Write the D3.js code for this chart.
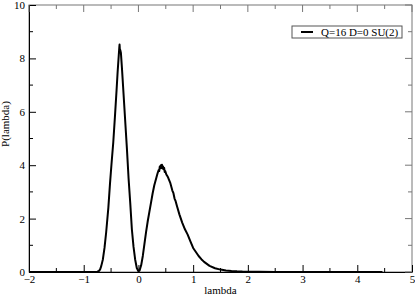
<!DOCTYPE html>
<html>
<head>
<meta charset="utf-8">
<script src="https://cdn.jsdelivr.net/npm/d3@7"></script>
<style>
  body { margin: 0; background: #fff; }
  text { font-family: "Liberation Serif", "DejaVu Serif", serif; }
</style>
</head>
<body>
<div id="chart"></div>
<script>
// curve
let lambdaVals = [-2, -1.5, -1.0, -0.8, -0.75, -0.72, -0.70, -0.68, -0.65, -0.62, -0.59, -0.55,
  -0.52, -0.49, -0.46, -0.43, -0.40, -0.38, -0.36, -0.35, -0.345, -0.34, -0.33, -0.32, -0.30,
  -0.27, -0.24, -0.21, -0.18, -0.15, -0.12, -0.09, -0.06, -0.03, 0.0, 0.02, 0.05, 0.08, 0.11,
  0.14, 0.17, 0.20, 0.23, 0.26, 0.29, 0.31, 0.33, 0.35, 0.37, 0.38, 0.39, 0.40, 0.41, 0.42,
  0.43, 0.44, 0.45, 0.46, 0.47, 0.48, 0.49, 0.51, 0.52, 0.54, 0.55, 0.58, 0.60, 0.62, 0.64,
  0.66, 0.68, 0.70, 0.75, 0.80, 0.85, 0.90, 0.95, 1.0, 1.05, 1.1, 1.15, 1.2, 1.3, 1.4, 1.5,
  1.6, 1.7, 1.8, 1.9, 2.0, 2.2, 2.5, 3.0, 4.0, 4.46];
let probVals = [0, 0, 0, 0, 0.01, 0.04, 0.1, 0.22, 0.47, 0.9, 1.48, 2.4,
  3.3, 4.1, 4.85, 5.8, 6.8, 7.5, 8.1, 8.4, 8.52, 8.35, 8.3, 8.2, 7.6,
  6.6, 5.6, 4.6, 3.5, 2.6, 1.6, 0.95, 0.47, 0.15, 0.03, 0.05, 0.25, 0.6, 1.05,
  1.5, 1.9, 2.25, 2.6, 2.95, 3.25, 3.4, 3.55, 3.7, 3.82, 3.78, 3.95, 3.88, 4.0, 3.9,
  4.02, 3.88, 3.95, 3.85, 3.9, 3.75, 3.78, 3.65, 3.62, 3.55, 3.5, 3.35, 3.2, 3.05, 2.95,
  2.75, 2.65, 2.5, 2.15, 1.85, 1.6, 1.4, 1.15, 0.9, 0.75, 0.6, 0.48, 0.38, 0.23, 0.14, 0.09,
  0.06, 0.04, 0.025, 0.015, 0.01, 0.005, 0, 0, 0, 0];

let xTicks = [-2, -1, 0, 1, 2, 3, 4, 5];
let yTicks = [0, 2, 4, 6, 8, 10];
let seriesName = "Q=16 D=0 SU(2)";

let width = 415, height = 297;
let margin = {left: 29, right: 3, top: 5, bottom: 25};

let svg = d3.select("#chart")
  .append("svg")
  .attr("width", width)
  .attr("height", height);

let x = d3.scaleLinear().domain([-2, 5]).range([margin.left, width - margin.right]);
let y = d3.scaleLinear().domain([0, 10]).range([height - margin.bottom, margin.top]);

let points = lambdaVals.map(function(l, i) { return {x: l, y: probVals[i]}; });

// minor ticks at the half steps
let xMinor = d3.range(-1.5, 5, 1);
let yMinor = d3.range(1, 10, 2);

// frame: top and right look lighter in the picture
svg.append("rect")
  .attr("x", x(-2)).attr("y", y(10))
  .attr("width", x(5) - x(-2)).attr("height", y(0) - y(10))
  .attr("fill", "none").attr("stroke", "#777").attr("stroke-width", 1);

// bottom axis, ticks inward
let xAxis = svg.append("g")
  .attr("transform", "translate(0," + y(0) + ")")
  .call(d3.axisBottom(x).tickValues(xTicks).tickFormat(d3.format("d"))
    .tickSize(-7).tickPadding(3).tickSizeOuter(0));
xAxis.selectAll(".minor").data(xMinor).enter().append("line")
  .attr("x1", d => x(d)).attr("x2", d => x(d)).attr("y1", 0).attr("y2", -4)
  .attr("stroke", "#000");

// left axis
let yAxis = svg.append("g")
  .attr("transform", "translate(" + x(-2) + ",0)")
  .call(d3.axisLeft(y).tickValues(yTicks).tickFormat(d3.format("d"))
    .tickSize(-7).tickPadding(4).tickSizeOuter(0));
yAxis.selectAll(".minor").data(yMinor).enter().append("line")
  .attr("y1", d => y(d)).attr("y2", d => y(d)).attr("x1", 0).attr("x2", 4)
  .attr("stroke", "#000");

[xAxis, yAxis].forEach(function(a) {
  a.selectAll("text").attr("font-size", 11).attr("fill", "#000")
    .attr("font-family", "Liberation Serif, serif");
  a.selectAll("path.domain").attr("stroke", "#000");
});

// mirrored ticks on top and right
let mirror = svg.append("g").attr("stroke", "#777");
mirror.selectAll(".tmaj").data(xTicks).enter().append("line")
  .attr("x1", d => x(d)).attr("x2", d => x(d)).attr("y1", y(10)).attr("y2", y(10) + 7);
mirror.selectAll(".tmin").data(xMinor).enter().append("line")
  .attr("x1", d => x(d)).attr("x2", d => x(d)).attr("y1", y(10)).attr("y2", y(10) + 4);
mirror.selectAll(".rmaj").data(yTicks).enter().append("line")
  .attr("y1", d => y(d)).attr("y2", d => y(d)).attr("x1", x(5)).attr("x2", x(5) - 7);
mirror.selectAll(".rmin").data(yMinor).enter().append("line")
  .attr("y1", d => y(d)).attr("y2", d => y(d)).attr("x1", x(5)).attr("x2", x(5) - 4);

// the curve
let line = d3.line()
  .x(d => x(d.x))
  .y(d => y(d.y));

svg.append("path")
  .datum(points)
  .attr("d", line)
  .attr("fill", "none")
  .attr("stroke", "#000")
  .attr("stroke-width", 2)
  .attr("stroke-linejoin", "round");

// axis titles
svg.append("text")
  .attr("x", (x(-2) + x(5)) / 2).attr("y", 294)
  .attr("text-anchor", "middle").attr("font-size", 11)
  .text("lambda");

svg.append("text")
  .attr("transform", "translate(9,124) rotate(-90)")
  .attr("text-anchor", "middle").attr("font-size", 11)
  .text("P(lambda)");

// legend
let legend = svg.append("g").attr("transform", "translate(292,26)");
legend.append("rect")
  .attr("width", 110).attr("height", 12)
  .attr("fill", "#fff").attr("stroke", "#555");
legend.append("line")
  .attr("x1", 9).attr("x2", 21).attr("y1", 6).attr("y2", 6)
  .attr("stroke", "#000").attr("stroke-width", 2);
legend.append("text")
  .attr("x", 29).attr("y", 10).attr("font-size", 11)
  .text(seriesName);
</script>
</body>
</html>
